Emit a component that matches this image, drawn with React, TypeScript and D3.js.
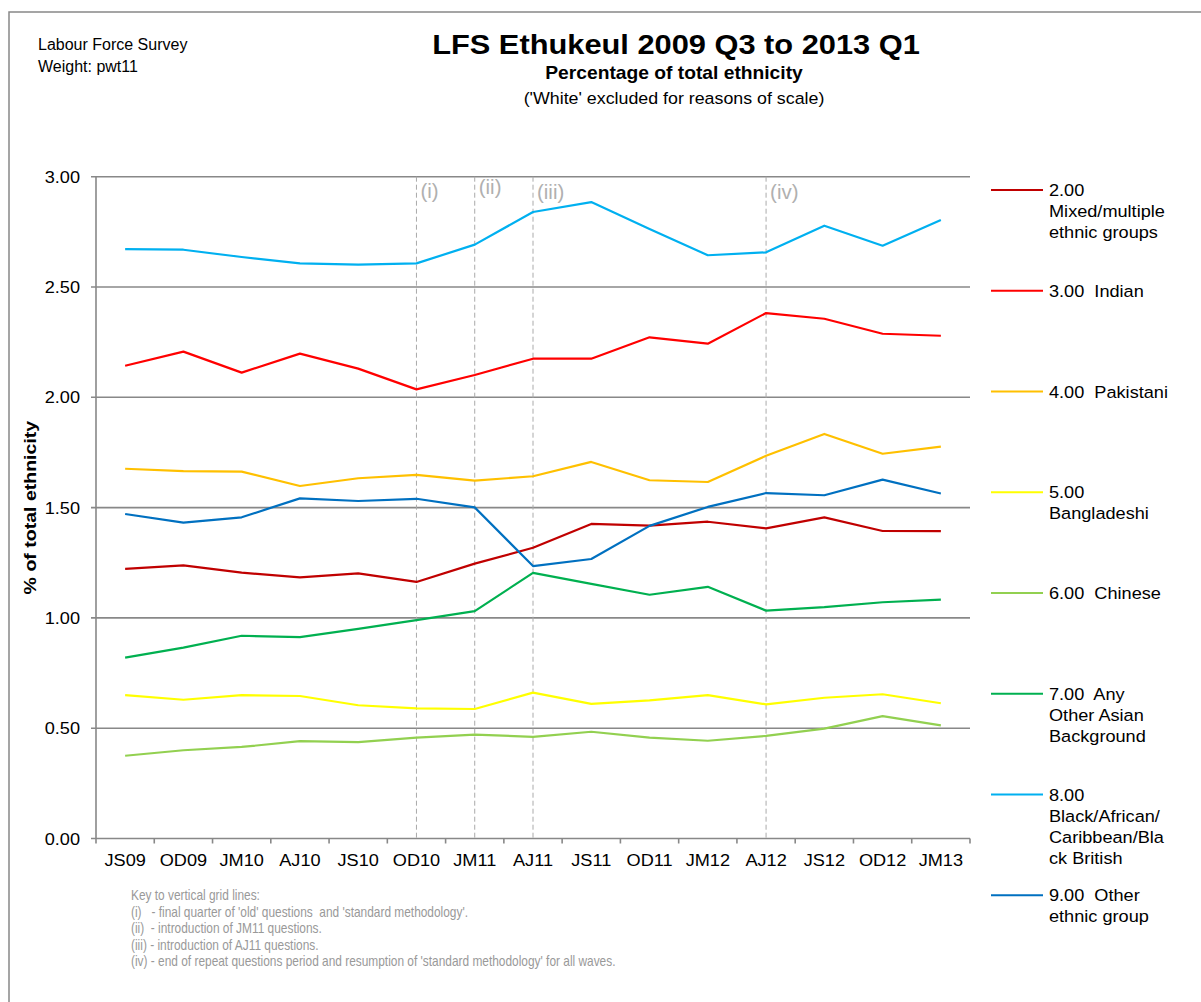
import React from 'react';
import * as d3 from 'd3';

const quarters = ['JS09', 'OD09', 'JM10', 'AJ10', 'JS10', 'OD10', 'JM11', 'AJ11', 'JS11', 'OD11', 'JM12', 'AJ12', 'JS12', 'OD12', 'JM13'];

const mixed = [1.222, 1.238, 1.205, 1.184, 1.202, 1.163, 1.246, 1.318, 1.426, 1.418, 1.436, 1.406, 1.456, 1.394, 1.393];
const indian = [2.143, 2.207, 2.112, 2.198, 2.13, 2.036, 2.101, 2.175, 2.175, 2.272, 2.243, 2.382, 2.356, 2.288, 2.279];
const pakistani = [1.676, 1.665, 1.663, 1.598, 1.633, 1.648, 1.622, 1.642, 1.707, 1.624, 1.616, 1.735, 1.834, 1.744, 1.776];
const bangladeshi = [0.65, 0.629, 0.65, 0.646, 0.604, 0.59, 0.587, 0.661, 0.61, 0.626, 0.65, 0.608, 0.638, 0.654, 0.613];
const chinese = [0.375, 0.4, 0.415, 0.441, 0.437, 0.457, 0.471, 0.461, 0.484, 0.457, 0.443, 0.465, 0.498, 0.555, 0.513];
const otherAsian = [0.82, 0.865, 0.919, 0.913, 0.95, 0.99, 1.031, 1.204, 1.154, 1.105, 1.141, 1.033, 1.049, 1.071, 1.083];
const black = [2.672, 2.669, 2.636, 2.607, 2.601, 2.607, 2.692, 2.84, 2.885, 2.763, 2.644, 2.657, 2.778, 2.687, 2.804];
const other = [1.471, 1.432, 1.456, 1.542, 1.53, 1.54, 1.501, 1.235, 1.267, 1.417, 1.503, 1.566, 1.556, 1.627, 1.564];

const yTicks = [0, 0.5, 1, 1.5, 2, 2.5, 3];

const series = [
  { lines: ['2.00', 'Mixed/multiple', 'ethnic groups'], color: '#C00000', values: mixed },
  { lines: ['3.00  Indian'], color: '#FF0000', values: indian },
  { lines: ['4.00  Pakistani'], color: '#FFC000', values: pakistani },
  { lines: ['5.00', 'Bangladeshi'], color: '#FFFF00', values: bangladeshi },
  { lines: ['6.00  Chinese'], color: '#92D050', values: chinese },
  { lines: ['7.00  Any', 'Other Asian', 'Background'], color: '#00B050', values: otherAsian },
  { lines: ['8.00', 'Black/African/', 'Caribbean/Bla', 'ck British'], color: '#00B0F0', values: black },
  { lines: ['9.00  Other', 'ethnic group'], color: '#0070C0', values: other },
];

const markers = [
  { at: 'OD10', label: '(i)', dy: 0 },
  { at: 'JM11', label: '(ii)', dy: -4 },
  { at: 'AJ11', label: '(iii)', dy: 1 },
  { at: 'AJ12', label: '(iv)', dy: 1 },
];

const keyLines = [
  'Key to vertical grid lines:',
  "(i)   - final quarter of 'old' questions  and 'standard methodology'.",
  '(ii)  - introduction of JM11 questions.',
  '(iii) - introduction of AJ11 questions.',
  "(iv) - end of repeat questions period and resumption of 'standard methodology' for all waves.",
];

const FONT = "'Liberation Sans', Arial, sans-serif";
const W = 1201;
const H = 1002;
const plot = { left: 96, right: 970, top: 176.7, bottom: 838.5 };

// text stretched horizontally a little, the source font renders wider
function T({ x, y, sx = 1, rot = 0, children, ...rest }: any) {
  return (
    <text transform={`translate(${x},${y}) rotate(${rot}) scale(${sx},1)`} style={{ whiteSpace: 'pre' }} {...rest}>
      {children}
    </text>
  );
}

export default function App() {
  const x = d3.scaleBand<string>().domain(quarters).range([plot.left, plot.right]);
  const y = d3.scaleLinear().domain([0, 3]).range([plot.bottom, plot.top]);
  const cx = (q: string) => (x(q) as number) + x.bandwidth() / 2;

  const line = d3
    .line<number>()
    .x((_, i) => cx(quarters[i]))
    .y((d) => y(d));

  const edges = quarters.map((q) => x(q) as number).concat(plot.right);

  return (
    <svg width={W} height={H} style={{ position: 'absolute', left: 0, top: 0, fontFamily: FONT }}>
      <rect x={0} y={0} width={W} height={H} fill="#fff" />
      <path d={`M9,${H + 5}V12H${W + 5}`} fill="none" stroke="#888" strokeWidth={1.5} />

      <T x={38} y={50} fontSize={16}>Labour Force Survey</T>
      <T x={38} y={72} fontSize={16}>Weight: pwt11</T>

      <T x={676} y={54} sx={1.1} fontSize={28} fontWeight="bold" textAnchor="middle">LFS Ethukeul 2009 Q3 to 2013 Q1</T>
      <T x={674} y={79} sx={1.1} fontSize={17.5} fontWeight="bold" textAnchor="middle">Percentage of total ethnicity</T>
      <T x={674} y={104} sx={1.08} fontSize={16.5} textAnchor="middle">('White' excluded for reasons of scale)</T>

      {/* horizontal grid */}
      {yTicks.map((t) => (
        <g key={t}>
          <line x1={plot.left - 5} x2={plot.right} y1={y(t)} y2={y(t)} stroke="#888" strokeWidth={1.6} />
          <T x={80} y={y(t) + 6} sx={1.1} fontSize={16.5} textAnchor="end">{t.toFixed(2)}</T>
        </g>
      ))}
      <line x1={plot.left} x2={plot.left} y1={plot.top} y2={plot.bottom} stroke="#888" strokeWidth={1.6} />
      {edges.map((e, i) => (
        <line key={i} x1={e} x2={e} y1={plot.bottom} y2={plot.bottom + 5} stroke="#888" strokeWidth={1.6} />
      ))}
      {quarters.map((q) => (
        <T key={q} x={cx(q)} y={866} sx={1.1} fontSize={16.5} textAnchor="middle">{q}</T>
      ))}

      {/* vertical marker lines */}
      {markers.map((m) => (
        <g key={m.at}>
          <line x1={cx(m.at)} x2={cx(m.at)} y1={plot.top} y2={plot.bottom} stroke="#aaa" strokeWidth={1} strokeDasharray="5,3" />
          <T x={cx(m.at) + 4} y={198 + m.dy} sx={1.05} fontSize={19.5} fill="#b0b0b0">{m.label}</T>
        </g>
      ))}

      {series.map((s) => (
        <path key={s.lines[0]} d={line(s.values) || ''} fill="none" stroke={s.color} strokeWidth={2.2} strokeLinejoin="round" />
      ))}

      <T x={36} y={(plot.top + plot.bottom) / 2} rot={-90} sx={1.15} fontSize={17} fontWeight="bold" textAnchor="middle">% of total ethnicity</T>

      {/* legend */}
      {series.map((s, i) => {
        const ly = 190 + i * 100.75;
        return (
          <g key={s.lines[0]}>
            <line x1={991} x2={1043} y1={ly} y2={ly} stroke={s.color} strokeWidth={2.2} />
            {s.lines.map((t, j) => (
              <T key={j} x={1049} y={ly + 6 + j * 21} sx={1.1} fontSize={16.5}>{t}</T>
            ))}
          </g>
        );
      })}

      {/* key */}
      {keyLines.map((t, i) => (
        <T key={i} x={131} y={900 + i * 16.6} sx={0.85} fontSize={14} fill="#999">{t}</T>
      ))}
    </svg>
  );
}
